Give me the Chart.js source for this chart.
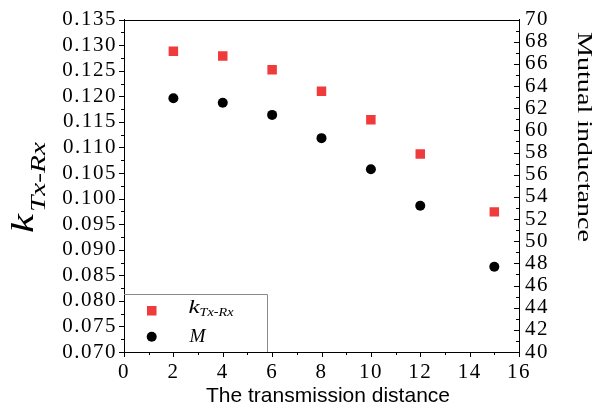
<!DOCTYPE html>
<html>
<head>
<meta charset="utf-8">
<script src="https://cdn.jsdelivr.net/npm/chart.js@4.4.0/dist/chart.umd.min.js"></script>
<style>
html, body { margin: 0; padding: 0; background: #fff; }
#wrap { width: 594px; height: 411px; position: relative; }
</style>
</head>
<body>
<div id="wrap"><canvas id="c"></canvas></div>
<script>
// ---- data ----
const distances = [2, 4, 6, 8, 10, 12, 15];
const kValues   = [0.1288, 0.1279, 0.1252, 0.1210, 0.1154, 0.1087, 0.0974];
const mValues   = [62.9, 62.5, 61.4, 59.3, 56.5, 53.2, 47.7];

// axis ranges / steps
const xRange = [0, 16];        const xMajorStep = 2;     const xMinorStep = 1;
const kRange = [0.070, 0.135]; const kMajorStep = 0.005; const kMinorStep = 0.0025;
const mRange = [40, 70];       const mMajorStep = 2;     const mMinorStep = 1;

// texts
const xTitle = 'The transmission distance';
const rightTitle = 'Mutual inductance';
const kMain = 'k';
const kSub = 'Tx-Rx';
const mLabel = 'M';

const RED = '#ef3b3b';
const SERIF = "'Liberation Serif', 'Times New Roman', serif";
const SANS = "'Liberation Sans', Arial, sans-serif";

function stretchText(ctx, text, x, y, targetW) {
  const w = ctx.measureText(text).width;
  const s = targetW / w;
  ctx.save();
  ctx.translate(x, y);
  ctx.scale(s, 1);
  ctx.fillText(text, 0, 0);
  ctx.restore();
}

const decor = {
  id: 'decor',
  beforeDraw(chart) {
    chart.ctx.letterSpacing = '1.5px';
  },
  beforeDatasetsDraw(chart) {
    const ctx = chart.ctx;
    ctx.letterSpacing = '0px';
    const { left, right, top, bottom } = chart.chartArea;
    ctx.save();
    ctx.strokeStyle = '#000';
    ctx.lineWidth = 1;
    // top frame line
    const ty = Math.round(top) + 0.5;
    ctx.beginPath(); ctx.moveTo(left, ty); ctx.lineTo(right, ty); ctx.stroke();

    // tick marks (major + minor) from the scales
    const xs = chart.scales.x, ys = chart.scales.y, y1 = chart.scales.y1;
    const nX = Math.round((xRange[1] - xRange[0]) / xMinorStep);
    for (let i = 0; i <= nX; i++) {
      const v = xRange[0] + i * xMinorStep;
      const len = (i % 2 === 0) ? 5 : 3;
      const px = Math.round(xs.getPixelForValue(v)) + 0.5;
      const b = Math.round(bottom);
      ctx.beginPath(); ctx.moveTo(px, b); ctx.lineTo(px, b + len); ctx.stroke();
    }
    const nK = Math.round((kRange[1] - kRange[0]) / kMinorStep);
    for (let i = 0; i <= nK; i++) {
      const v = kRange[0] + i * kMinorStep;
      const len = (i % 2 === 0) ? 5 : 3;
      const py = Math.round(ys.getPixelForValue(v)) + 0.5;
      const l = Math.round(left);
      ctx.beginPath(); ctx.moveTo(l - len, py); ctx.lineTo(l, py); ctx.stroke();
    }
    const nM = Math.round((mRange[1] - mRange[0]) / mMinorStep);
    for (let i = 0; i <= nM; i++) {
      const v = mRange[0] + i * mMinorStep;
      const len = (i % 2 === 0) ? 5 : 3;
      const py = Math.round(y1.getPixelForValue(v)) + 0.5;
      const r = Math.round(right);
      ctx.beginPath(); ctx.moveTo(r - len, py); ctx.lineTo(r, py); ctx.stroke();
    }

    // legend box (top and right edges; others sit on the axes)
    ctx.strokeStyle = '#8a8a8a';
    ctx.beginPath();
    ctx.moveTo(left, 294.5);
    ctx.lineTo(267.5, 294.5);
    ctx.lineTo(267.5, bottom);
    ctx.stroke();
    ctx.restore();
  },
  afterDraw(chart) {
    const ctx = chart.ctx;
    ctx.save();
    ctx.letterSpacing = '0px';
    ctx.fillStyle = '#000';

    // legend markers
    ctx.fillStyle = RED;
    ctx.fillRect(147, 306, 9.5, 9.5);
    ctx.fillStyle = '#000';
    ctx.beginPath(); ctx.arc(151.7, 336.8, 5, 0, Math.PI * 2); ctx.fill();

    // legend labels
    ctx.textBaseline = 'alphabetic';
    ctx.textAlign = 'left';
    ctx.font = `italic 19px ${SERIF}`;
    stretchText(ctx, kMain, 188.5, 313, 11);
    ctx.font = `italic 13px ${SERIF}`;
    stretchText(ctx, kSub, 199.5, 316, 34);
    ctx.font = `italic 18px ${SERIF}`;
    stretchText(ctx, mLabel, 189.5, 341.5, 16);

    // x title
    ctx.font = `21px ${SANS}`;
    stretchText(ctx, xTitle, 206, 402, 244);

    // left title (rotated)
    ctx.save();
    ctx.translate(33, 233);
    ctx.rotate(-Math.PI / 2);
    ctx.font = `italic 31px ${SERIF}`;
    stretchText(ctx, kMain, 0, 0, 19);
    ctx.font = `italic 22px ${SERIF}`;
    stretchText(ctx, kSub, 21, 12, 70);
    ctx.restore();

    // right title (rotated)
    ctx.save();
    ctx.translate(577.7, 32);
    ctx.rotate(Math.PI / 2);
    ctx.font = `21px ${SERIF}`;
    stretchText(ctx, rightTitle, 0, 0, 210);
    ctx.restore();

    ctx.restore();
  }
};

Chart.defaults.color = '#000';

new Chart(document.getElementById('c'), {
  type: 'scatter',
  data: {
    datasets: [
      {
        label: 'kTx-Rx',
        data: distances.map((d, i) => ({ x: d, y: kValues[i] })),
        yAxisID: 'y',
        pointStyle: 'rect',
        pointRadius: 6.7,
        pointHoverRadius: 6.7,
        backgroundColor: RED,
        borderColor: RED,
        pointBorderWidth: 0,
        showLine: false
      },
      {
        label: 'M',
        data: distances.map((d, i) => ({ x: d, y: mValues[i] })),
        yAxisID: 'y1',
        pointStyle: 'circle',
        pointRadius: 5,
        pointHoverRadius: 5,
        backgroundColor: '#000',
        borderColor: '#000',
        pointBorderWidth: 0,
        showLine: false
      }
    ]
  },
  options: {
    responsive: true,
    maintainAspectRatio: false,
    devicePixelRatio: 1,
    animation: false,
    layout: { padding: { top: 15, left: 0, right: 0, bottom: 0 } },
    plugins: { legend: { display: false }, tooltip: { enabled: false } },
    scales: {
      x: {
        type: 'linear',
        position: 'bottom',
        min: xRange[0], max: xRange[1],
        afterFit: (s) => { s.height = 59; },
        grid: { drawOnChartArea: false, drawTicks: false },
        border: { display: true, color: '#000', width: 1 },
        ticks: { stepSize: xMajorStep, autoSkip: false, padding: 8, font: { family: SERIF, size: 21 }, color: '#000', maxRotation: 0 }
      },
      y: {
        type: 'linear',
        position: 'left',
        min: kRange[0], max: kRange[1],
        afterFit: (s) => { s.width = 124; },
        grid: { drawOnChartArea: false, drawTicks: false },
        border: { display: true, color: '#000', width: 1 },
        ticks: { stepSize: kMajorStep, autoSkip: false, padding: 7, font: { family: SERIF, size: 21 }, color: '#000',
                 callback: (v) => Number(v).toFixed(3) }
      },
      y1: {
        type: 'linear',
        position: 'right',
        min: mRange[0], max: mRange[1],
        afterFit: (s) => { s.width = 75; },
        grid: { drawOnChartArea: false, drawTicks: false },
        border: { display: true, color: '#000', width: 1 },
        ticks: { stepSize: mMajorStep, autoSkip: false, padding: 6, font: { family: SERIF, size: 21 }, color: '#000' }
      }
    }
  },
  plugins: [decor]
});
</script>
</body>
</html>
